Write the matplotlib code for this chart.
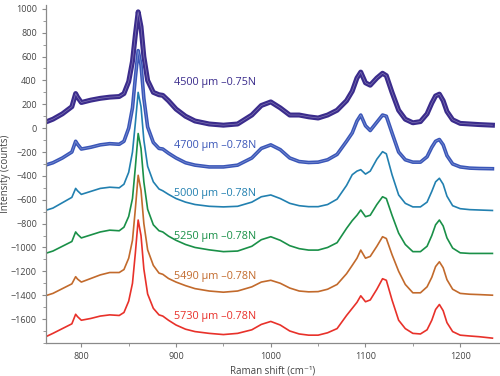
import matplotlib
matplotlib.use("Agg")
import matplotlib.pyplot as plt
from matplotlib.ticker import MultipleLocator

plt.rcParams["font.family"] = ["Open Sans", "DejaVu Sans"]

# Raman shift sample positions (cm^-1)
SHIFT = [762, 770, 780, 790, 794, 796, 800, 810, 820, 830, 840, 845, 850, 854, 857,
         860, 863, 866, 870, 876, 882, 886, 892, 900, 910, 920, 935, 950, 965, 980,
         990, 1000, 1010, 1020, 1030, 1040, 1050, 1060, 1070, 1080, 1086, 1091, 1095,
         1100, 1105, 1112, 1118, 1122, 1128, 1135, 1142, 1150, 1158, 1165, 1170, 1174,
         1178, 1182, 1186, 1192, 1200, 1210, 1220, 1234]

I_4500 = [50, 75, 120, 180, 290, 260, 215, 235, 250, 260, 265, 290, 390, 560, 780,
          975, 850, 600, 400, 300, 280, 275, 230, 160, 100, 60, 35, 25, 35, 110,
          190, 220, 170, 110, 110, 95, 85, 110, 150, 230, 310, 420, 470,
          380, 360, 420, 460, 440, 300, 150, 75, 45, 55, 120, 210, 270,
          285, 230, 140, 70, 40, 35, 30, 25]

I_4700 = [-310, -290, -250, -200, -110, -135, -175, -160, -140, -130, -135, -110, 0, 170, 420,
          650, 530, 250, 10, -120, -170, -175, -210, -250, -290, -310, -325, -325, -310, -250,
          -170, -140, -180, -250, -280, -288, -285, -265, -220, -110, -40, 60, 110,
          20, -20, 50, 110, 100, -40, -200, -265, -285, -285, -240, -160, -110,
          -95, -140, -230, -300, -325, -335, -338, -340]

I_5000 = [-690, -670, -625, -580, -505, -525, -555, -530, -505, -495, -500, -470, -370, -200, 40,
          300, 180, -100, -320, -450, -510, -525, -555, -590, -620, -640, -655, -660, -655, -620,
          -575, -560, -590, -630, -650, -658, -658, -640, -595, -480, -390, -360, -348,
          -385, -360, -260, -197, -215, -390, -560, -630, -660, -660, -620, -530, -450,
          -420, -470, -570, -650, -675, -683, -686, -690]

I_5250 = [-1050, -1030, -990, -950, -870, -890, -920, -895, -870, -855, -860, -830, -740, -590, -330,
          -45, -170, -450, -680, -810, -860, -870, -905, -940, -975, -1000, -1020, -1035, -1030, -990,
          -935, -910, -940, -985, -1010, -1022, -1022, -1000, -960, -840, -775, -730, -686,
          -742, -730, -640, -575, -590, -730, -880, -975, -1035, -1035, -990, -900, -810,
          -770, -820, -920, -1005, -1045, -1050, -1050, -1050]

I_5490 = [-1405, -1385, -1345, -1305, -1245, -1265, -1290, -1260, -1230, -1210, -1210, -1185, -1090, -940, -680,
          -395, -520, -800, -1020, -1150, -1215, -1225, -1260, -1290, -1320, -1345, -1365, -1375, -1365, -1330,
          -1290, -1275, -1300, -1340, -1365, -1372, -1370, -1350, -1310, -1220, -1150, -1090, -1022,
          -1090, -1075, -990, -910, -925, -1060, -1200, -1310, -1380, -1380, -1330, -1250, -1160,
          -1120, -1170, -1270, -1350, -1385, -1392, -1395, -1400]

I_5730 = [-1750, -1720, -1680, -1640, -1560, -1580, -1610, -1595, -1575, -1565, -1570, -1545, -1450, -1300, -1050,
          -770, -900, -1180, -1390, -1510, -1565, -1575, -1610, -1650, -1685, -1705, -1720, -1730, -1720, -1690,
          -1645, -1620, -1650, -1700, -1725, -1735, -1735, -1715, -1680, -1570, -1510, -1460, -1405,
          -1455, -1440, -1350, -1262, -1275, -1440, -1610, -1680, -1720, -1725, -1690, -1610, -1520,
          -1478, -1530, -1630, -1705, -1735, -1742, -1748, -1760]

SERIES = [I_4500, I_4700, I_5000, I_5250, I_5490, I_5730]
LABELS = ["4500 \u00b5m \u20130.75N", "4700 \u00b5m \u20130.78N", "5000 \u00b5m \u20130.78N",
          "5250 \u00b5m \u20130.78N", "5490 \u00b5m \u20130.78N", "5730 \u00b5m \u20130.78N"]
LABEL_Y = [379, -149, -544, -904, -1240, -1575]
COLORS = ["#3B2C8C", "#3A56B8", "#2280B0", "#1A9048", "#C26A2C", "#E8312A"]
WIDTHS = [3.6, 2.6, 1.2, 1.2, 1.2, 1.2]

fig = plt.figure(figsize=(5.0, 3.76), dpi=100)
ax = fig.add_axes([0.092, 0.088, 0.908, 0.898])

for i, (vals, col, lw) in enumerate(zip(SERIES, COLORS, WIDTHS)):
    ax.plot(SHIFT, vals, color=col, linewidth=lw, solid_joinstyle="round")
    if i < 2:
        # the top two traces are bundles of many overlapping spectra
        ax.plot(SHIFT, vals, color="white", linewidth=0.5, alpha=0.35)

for lab, ly, col in zip(LABELS, LABEL_Y, COLORS):
    ax.text(898, ly, lab, color=col, fontsize=7.8, ha="left", va="center")

ax.set_xlim(762.7, 1242)
ax.set_ylim(-1800, 1030)
ax.set_yticks(range(-1600, 1001, 200))
ax.yaxis.set_minor_locator(MultipleLocator(100))
ax.set_xticks([800, 900, 1000, 1100, 1200])
ax.xaxis.set_minor_locator(MultipleLocator(50))

for s in ["top", "right"]:
    ax.spines[s].set_visible(False)
for s in ["left", "bottom"]:
    ax.spines[s].set_color("#8a8a8a")
    ax.spines[s].set_linewidth(0.9)
ax.tick_params(which="both", direction="out", color="#8a8a8a", labelcolor="#444444", labelsize=6.5)
ax.tick_params(which="major", length=3)
ax.tick_params(which="minor", length=2)

ax.set_xlabel("Raman shift (cm\u207b\u00b9)", fontsize=7, color="#444444", labelpad=3)
ax.set_ylabel("Intensity (counts)", fontsize=7, color="#444444")
ax.yaxis.set_label_coords(-0.077, 0.5)

fig.savefig("out.png", dpi=100, facecolor="white")
